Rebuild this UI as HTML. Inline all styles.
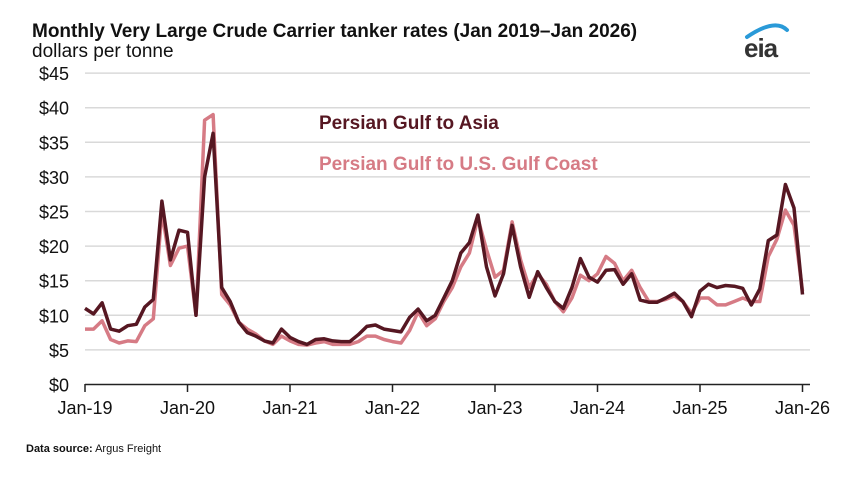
<!DOCTYPE html>
<html><head><meta charset="utf-8"><style>
body{margin:0;background:#fff;width:860px;height:472px;overflow:hidden;font-family:"Liberation Sans",Arial,sans-serif}
</style></head><body>
<svg id="s" width="860" height="472" xmlns="http://www.w3.org/2000/svg" font-family="Liberation Sans, Arial, sans-serif">
<text x="32" y="37" font-size="19" font-weight="bold" fill="#111">Monthly Very Large Crude Carrier tanker rates (Jan 2019–Jan 2026)</text>
<text x="32" y="57" font-size="19" fill="#111">dollars per tonne</text>
<path d="M747 37 Q775 18 787 30" stroke="#2a9ad8" stroke-width="4" fill="none" stroke-linecap="round"/>
<text x="744" y="57" font-size="26" fill="#333" font-weight="bold" letter-spacing="-1">eia</text>
<g id="grid" stroke="#d9d9d9" stroke-width="1.5"></g>
<g id="ylab" font-size="18" fill="#111" text-anchor="end"></g>
<line x1="85" y1="384.5" x2="810" y2="384.5" stroke="#222" stroke-width="1.5"/>
<g id="xt" stroke="#222" stroke-width="1.5"></g>
<g id="xl" font-size="18" fill="#111" text-anchor="middle"></g>
<polyline id="lg" fill="none" stroke="#d67b85" stroke-width="3.5" stroke-linejoin="round"/>
<polyline id="dk" fill="none" stroke="#561722" stroke-width="3.5" stroke-linejoin="round"/>
<text x="319" y="129" font-size="19" font-weight="bold" fill="#561722">Persian Gulf to Asia</text>
<text x="319" y="170" font-size="19" font-weight="bold" fill="#d67b85">Persian Gulf to U.S. Gulf Coast</text>
<text x="26" y="452" font-size="11" fill="#111"><tspan font-weight="bold">Data source:</tspan> Argus Freight</text>
</svg>
<script>
var NS="http://www.w3.org/2000/svg";
function el(p,t,a,txt){var e=document.createElementNS(NS,t);for(var k in a)e.setAttribute(k,a[k]);if(txt)e.textContent=txt;document.getElementById(p).appendChild(e);}
var y0=384.5,py=34.6/5,x0=85,pm=102.5/12;
for(var v=5;v<=45;v+=5){var y=y0-v*py;el('grid','line',{x1:85,x2:810,y1:y,y2:y});}
for(var v=0;v<=45;v+=5){el('ylab','text',{x:69,y:y0-v*py+7},'$'+v);}
var yrs=['Jan-19','Jan-20','Jan-21','Jan-22','Jan-23','Jan-24','Jan-25','Jan-26'];
for(var i=0;i<8;i++){var x=x0+i*102.5;el('xt','line',{x1:x,x2:x,y1:384,y2:392});el('xl','text',{x:x,y:414},yrs[i]);}
var d=[11,10.2,11.8,8,7.7,8.5,8.7,11.2,12.3,26.5,18,22.3,
22,10,30,36.3,14,12,9,7.5,7,6.3,6,8,
6.8,6.2,5.8,6.5,6.6,6.3,6.2,6.2,7.2,8.4,8.6,8.0,
7.8,7.6,9.7,10.9,9.2,10,12.5,15,19,20.5,24.5,17,
12.8,16,23,17,12.6,16.3,14,12,11,14,18.2,15.5,
14.8,16.5,16.6,14.5,16,12.2,11.9,11.9,12.5,13.2,12,9.8,
13.5,14.5,14,14.3,14.2,13.9,11.5,13.8,20.8,21.6,28.9,25.5,13];
var l=[8,8,9.2,6.5,6,6.3,6.2,8.5,9.5,25,17.2,19.7,
20,10,38.2,39,13,11.5,9,8,7.3,6.3,5.8,7,
6.3,5.8,5.7,6,6.2,5.8,5.8,5.8,6.2,7,7,6.5,
6.2,6.0,7.8,10.5,8.5,9.5,12,14,17,19,24,19.5,
15.5,16.5,23.5,18,14,16,14.5,12,10.5,12.5,15.8,15.0,
16,18.5,17.5,15,16.5,14,12,12,12.3,12.8,12,10.3,
12.5,12.5,11.5,11.5,12,12.5,12,12,18.5,21,25.2,23,13.5];
function pts(a){return a.map(function(v,i){return (x0+i*pm).toFixed(1)+','+(y0-v*py).toFixed(1)}).join(' ');}
document.getElementById('dk').setAttribute('points',pts(d));
document.getElementById('lg').setAttribute('points',pts(l));
</script>
</body></html>
